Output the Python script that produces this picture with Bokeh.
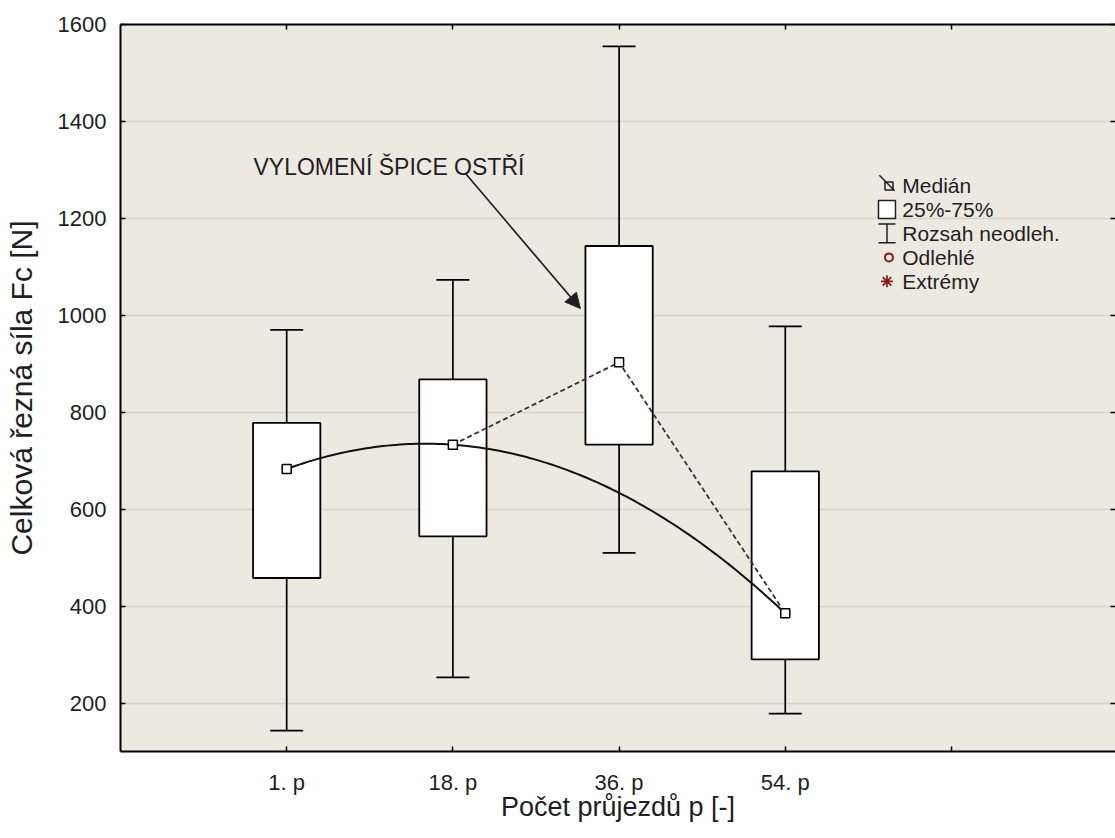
import numpy as np
from bokeh.plotting import figure
from bokeh.models import (Range1d, FixedTicker, LinearAxis, Arrow, NormalHead,
                          Label, ColumnDataSource)
from bokeh.core.properties import value
from bokeh.embed import file_html
from bokeh.resources import INLINE

# ---------------- data ----------------
categories = ["1. p", "18. p", "36. p", "54. p"]
whisker_low = [143, 253, 510, 178]
q1 = [458, 544, 733, 290]
median = [683, 733, 903, 385]
q3 = [778, 868, 1143, 678]
whisker_high = [970, 1073, 1555, 977]
y_ticks = [200, 400, 600, 800, 1000, 1200, 1400, 1600]
legend_labels = ["Medián", "25%-75%", "Rozsah neodleh.", "Odlehlé", "Extrémy"]
annotation_text = "VYLOMENÍ ŠPICE OSTŘÍ"

x_pos = [i + 1 for i in range(len(categories))]
x_ticks = x_pos + [len(categories) + 1]

FONT = "Liberation Sans"
BG = "#ECE9E0"
INK = "#1E1E24"
RED = "#8B1A1A"

p = figure(width=1115, height=838, output_backend="svg", toolbar_location=None,
           x_range=Range1d(0, 5.987), y_range=Range1d(100, 1600),
           min_border_left=120, min_border_right=0, min_border_top=24,
           min_border_bottom=87,
           background_fill_color=BG, border_fill_color="white",
           outline_line_color=None,
           x_axis_label="Počet průjezdů p [-]",
           y_axis_label="Celková řezná síla Fc [N]")

# ---------------- axes ----------------
xt = FixedTicker(ticks=x_ticks, minor_ticks=[])
overrides = {x: c for x, c in zip(x_pos, categories)}
overrides[x_ticks[-1]] = ""
xa = p.xaxis[0]
xa.ticker = xt
xa.major_label_overrides = overrides
xa.major_tick_in = 5
xa.major_tick_out = 0
xa.minor_tick_line_color = None
xa.axis_line_width = 2
xa.axis_line_color = "black"
xa.major_tick_line_color = "black"
xa.major_tick_line_width = 1.5
xa.major_label_standoff = 18
xa.major_label_text_font = FONT
xa.major_label_text_font_size = "22px"
xa.major_label_text_color = INK
xa.axis_label_text_font = FONT
xa.axis_label_text_font_size = "27px"
xa.axis_label_text_font_style = "normal"
xa.axis_label_text_color = INK
xa.axis_label_standoff = -6

ya = p.yaxis[0]
ya.ticker = FixedTicker(ticks=y_ticks, minor_ticks=[])
ya.major_tick_in = 5
ya.major_tick_out = 0
ya.minor_tick_line_color = None
ya.axis_line_width = 2
ya.axis_line_color = "black"
ya.major_tick_line_color = "black"
ya.major_tick_line_width = 1.5
ya.major_label_standoff = 14
ya.major_label_text_font = FONT
ya.major_label_text_font_size = "22px"
ya.major_label_text_color = INK
ya.axis_label_text_font = FONT
ya.axis_label_text_font_size = "30px"
ya.axis_label_text_font_style = "normal"
ya.axis_label_text_color = INK
ya.axis_label_standoff = 17

top = LinearAxis(ticker=FixedTicker(ticks=x_ticks, minor_ticks=[]),
                 major_label_text_font_size="0px", major_label_standoff=0,
                 major_tick_in=5, major_tick_out=0, minor_tick_line_color=None,
                 axis_line_width=2, axis_line_color="black",
                 major_tick_line_width=1.5,
                 major_label_overrides={t: "" for t in x_ticks})
p.add_layout(top, "above")

right = LinearAxis(ticker=FixedTicker(ticks=y_ticks, minor_ticks=[]),
                   major_label_text_font_size="0px", major_label_standoff=0,
                   major_tick_in=5, major_tick_out=0,
                   minor_tick_line_color=None, axis_line_color=None,
                   major_tick_line_width=1.5,
                   major_label_overrides={t: "" for t in y_ticks})
p.add_layout(right, "right")

p.xgrid.visible = False
p.ygrid.ticker = FixedTicker(ticks=y_ticks, minor_ticks=[])
p.ygrid.grid_line_color = "#D6D3C9"
p.ygrid.grid_line_width = 1.5

# ---------------- boxes ----------------
src = ColumnDataSource(dict(x=x_pos, low=whisker_low, q1=q1, med=median,
                            q3=q3, high=whisker_high))
p.segment(x0="x", y0="low", x1="x", y1="q1", source=src,
          line_color="black", line_width=1.7)
p.segment(x0="x", y0="q3", x1="x", y1="high", source=src,
          line_color="black", line_width=1.7)
p.scatter(x="x", y="low", source=src, marker="dash", size=33,
          line_color="black", line_width=1.7)
p.scatter(x="x", y="high", source=src, marker="dash", size=33,
          line_color="black", line_width=1.7)
p.vbar(x="x", width=0.405, bottom="q1", top="q3", source=src,
       fill_color="white", line_color="black", line_width=1.8)

# quadratic trend through the medians (excluding the 36. p outlier box)
fit_idx = [0, 1, 3]
coef = np.polyfit([x_pos[i] for i in fit_idx], [median[i] for i in fit_idx], 2)
xs = np.linspace(x_pos[0], x_pos[-1], 120)
p.line(xs, np.polyval(coef, xs), line_color="#111111", line_width=2)

# dashed connection of medians 18. p -> 36. p -> 54. p
p.line(x_pos[1:], median[1:], line_color="#333333", line_width=1.8,
       line_dash="5 3")

p.scatter(x="x", y="med", source=src, marker="square", size=9,
          fill_color="white", line_color="black", line_width=1.5)

# ---------------- annotation ----------------
p.add_layout(Label(x=0.80, y=1305, text=annotation_text, text_font=FONT,
                   text_font_size="23px", text_color=INK,
                   text_baseline="alphabetic"))
p.add_layout(Arrow(end=NormalHead(size=15, fill_color=INK, line_color=INK,
                                  line_width=1),
                   x_start=2.075, y_start=1293, x_end=2.767, y_end=1014,
                   line_color=INK, line_width=1.7))

# ---------------- legend (Statistica style) ----------------
LEG_X = 4.612
LEG_TX = 4.704
LEG_Y0 = 1268
LEG_DY = 49.5
rows = [LEG_Y0 - i * LEG_DY for i in range(len(legend_labels))]
DX = 0.046   # ~ 8 px horizontally
DYL = 16.0   # ~ 8 px vertically

# Medián: square crossed by a diagonal line
p.segment(x0=[LEG_X - DX], y0=[rows[0] + DYL + 5], x1=[LEG_X + DX],
          y1=[rows[0] - DYL + 5], line_color=INK, line_width=1.5)
p.scatter([LEG_X + 0.012], [rows[0] - 1], marker="square", size=8,
          fill_color=None, line_color=INK, line_width=1.5)
# 25%-75%: box
p.rect([LEG_X], [rows[1]], width=17, height=18, width_units="screen",
       height_units="screen", fill_color="white", line_color=INK,
       line_width=1.5)
# Rozsah neodleh.: I-bar
p.scatter([LEG_X], [rows[2]], marker="dash", size=19, angle=np.pi / 2,
          line_color=INK, line_width=1.5)
p.scatter([LEG_X, LEG_X], [rows[2] + 19.5, rows[2] - 19.5], marker="dash",
          size=17, line_color=INK, line_width=1.5)
# Odlehlé: circle
p.scatter([LEG_X + 0.012], [rows[3]], marker="circle", size=8,
          fill_color=None, line_color=RED, line_width=2)
# Extrémy: asterisk
p.scatter([LEG_X], [rows[4]], marker="asterisk", size=12,
          line_color=RED, line_width=1.7)

p.text(x=[LEG_TX] * len(legend_labels), y=rows, text=legend_labels,
       text_font=value(FONT), text_font_size="21px", text_color=INK,
       text_baseline="middle", text_align="left")

open("out.html", "w").write(file_html(p, INLINE))
